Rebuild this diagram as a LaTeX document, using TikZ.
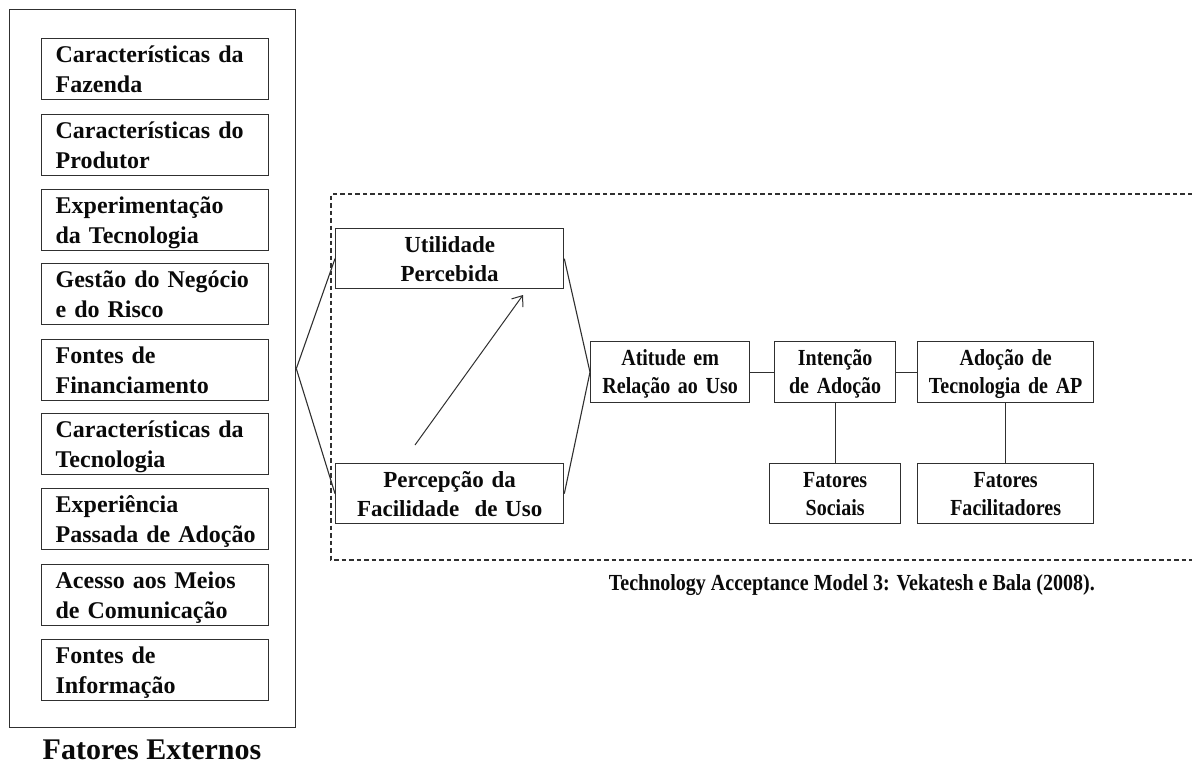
\documentclass[tikz,border=0pt]{standalone}
\usepackage{fontspec}
\setmainfont{Liberation Serif}
\newfontfamily\narrowserif[FakeStretch=0.87]{Liberation Serif}
\usetikzlibrary{arrows.meta}
\definecolor{linecol}{HTML}{303030}
\definecolor{txtcol}{HTML}{0A0A0A}
\newcommand\ind{\hspace*{14pt}}
\tikzset{
  frame/.style={draw=linecol, line width=1.3pt, inner sep=0pt, anchor=north west, text=txtcol},
  lbox/.style={frame, inner xsep=0pt, inner ysep=0pt, text width=227pt, align=left,
    text height=24pt, text depth=37pt, font=\fontsize{24}{29.5}\selectfont\bfseries},
  mbox/.style={frame, inner xsep=4pt, inner ysep=0pt, text width=220pt, align=center,
    text height=24pt, text depth=36pt, font=\fontsize{23}{28.5}\selectfont\bfseries},
  rbox/.style={frame, inner xsep=3pt, inner ysep=0pt, align=center,
    text height=23.5pt, font=\narrowserif\fontsize{23}{28.5}\selectfont\bfseries},
  conn/.style={draw=linecol, line width=1.1pt},
  dashframe/.style={draw=linecol, line width=1.1pt, dash pattern=on 4.5pt off 3pt},
}
\begin{document}
\begin{tikzpicture}[x=1pt, y=-1pt]
\useasboundingbox (0,0) rectangle (1192,764);
% external factors frame
\node[frame, minimum width=286pt, minimum height=718pt] (ext) at (9,9) {};
\node[lbox] (b1) at (41,38)  {\ind Características da\\\ind Fazenda};
\node[lbox] (b2) at (41,114) {\ind Características do\\\ind Produtor};
\node[lbox] (b3) at (41,189) {\ind Experimentação\\\ind da Tecnologia};
\node[lbox] (b4) at (41,263) {\ind Gestão do Negócio\\\ind e do Risco};
\node[lbox] (b5) at (41,339) {\ind Fontes de\\\ind Financiamento};
\node[lbox] (b6) at (41,413) {\ind Características da\\\ind Tecnologia};
\node[lbox] (b7) at (41,488) {\ind Experiência\\\ind Passada de Adoção};
\node[lbox] (b8) at (41,564) {\ind Acesso aos Meios\\\ind de Comunicação};
\node[lbox] (b9) at (41,639) {\ind Fontes de\\\ind Informação};
\node[anchor=base, inner sep=0pt, text=txtcol, font=\fontsize{30}{36}\selectfont\bfseries] (extlbl) at (152,759) {Fatores Externos};
% dashed TAM frame
\draw[dashframe] (1192,194) -| (331,560) -- (1192,560);
% TAM boxes
\node[mbox] (up) at (335,228) {Utilidade\\Percebida};
\node[mbox] (pe) at (335,463) {Percepção da\\Facilidade\ \ de Uso};
\node[rbox, text width=153pt, text depth=37.5pt] (at) at (590,341) {Atitude em\\Relação ao Uso};
\node[rbox, text width=115pt, text depth=37.5pt] (in) at (774,341) {Intenção\\de Adoção};
\node[rbox, text width=170pt, text depth=37.5pt] (ad) at (917,341) {Adoção de\\Tecnologia de AP};
\node[rbox, text width=125pt, text depth=36.5pt] (fs) at (769,463) {Fatores\\Sociais};
\node[rbox, text width=170pt, text depth=36.5pt] (ff) at (917,463) {Fatores\\Facilitadores};
\node[anchor=base east, inner sep=0pt, text=txtcol, font=\narrowserif\fontsize{23}{28}\selectfont\bfseries] (cap) at (1095,590) {Technology Acceptance Model 3: Vekatesh e Bala (2008).};
% connectors
\draw[conn] (ext.east) -- (up.west);
\draw[conn] (ext.east) -- (pe.west);
\draw[conn] (up.east) -- (at.west);
\draw[conn] (pe.east) -- (at.west);
\draw[conn] (at.east) -- (in.west);
\draw[conn] (in.east) -- (ad.west);
\draw[conn] (in.south) -- (fs.north);
\draw[conn] (ad.south) -- (ff.north);
\coordinate (arrS) at (415,445);
\coordinate (arrE) at (523,295);
\draw[conn, line width=1pt, -{Straight Barb[length=9pt, width=14pt]}] (arrS) -- (arrE);
\end{tikzpicture}
\end{document}
